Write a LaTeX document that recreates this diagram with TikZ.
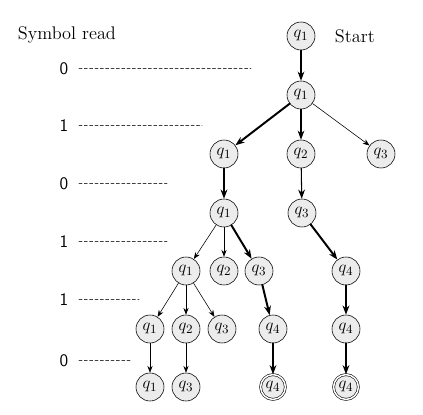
\documentclass[tikz,border=0pt]{standalone}
\usepackage{amsmath,amssymb}
\usepackage{tikz}
\usetikzlibrary{arrows.meta}
\usepackage{xcolor}

\begin{document}
\begin{tikzpicture}[x=0.025cm,y=-0.025cm,>={Stealth[length=2.3mm,width=1.7mm]},font=\fontsize{13}{15}\selectfont,line cap=round,
  state/.style={circle,draw,fill=gray!15,minimum size=0.7cm,inner sep=0pt},
  accept/.style={state,minimum size=0.62cm,double,double distance=1.1pt},
  lite/.style={->,line width=0.4pt,>={Stealth[length=1.7mm,width=1.3mm]}},
  mid/.style={->,line width=0.75pt},
  heavy/.style={->,line width=1.4pt},
  level/.style={font=\sffamily\fontsize{12.5}{14}\selectfont},
  guide/.style={line width=0.4pt,black!75,dash pattern=on 2.2pt off 1.6pt}]
\useasboundingbox (0,0) rectangle (423,415);
% column of symbols read
\node[anchor=west] (head) at (13,35) {Symbol read};
\node[level] (s1) at (64,69) {0};
\node[level] (s2) at (64,126) {1};
\node[level] (s3) at (64,184) {0};
\node[level] (s4) at (64,242) {1};
\node[level] (s5) at (64,300) {1};
\node[level] (s6) at (64,361) {0};
\coordinate (e1) at (251,68);
\coordinate (e2) at (202,125);
\coordinate (e3) at (167,183);
\coordinate (e4) at (167,241);
\coordinate (e5) at (139,299);
\coordinate (e6) at (132,360);
\foreach \i in {1,...,6}
  \draw[guide] (s\i.east |- e\i) ++(4pt,0) -- (e\i);
% tree of states
\node[state] (a) at (301,36) {$q_1$};
\node[anchor=west] (start) at (330,36) {Start};
\node[state] (b) at (301,95) {$q_1$};
\node[state] (c1) at (224,154) {$q_1$};
\node[state] (c2) at (301,154) {$q_2$};
\node[state] (c3) at (381,154) {$q_3$};
\node[state] (d1) at (224,213) {$q_1$};
\node[state] (d2) at (302,213) {$q_3$};
\node[state] (f1) at (186,271) {$q_1$};
\node[state] (f2) at (224,271) {$q_2$};
\node[state] (f3) at (259,271) {$q_3$};
\node[state] (f4) at (346,271) {$q_4$};
\node[state] (g1) at (150,329) {$q_1$};
\node[state] (g2) at (186,329) {$q_2$};
\node[state] (g3) at (222,329) {$q_3$};
\node[state] (g4) at (273,329) {$q_4$};
\node[state] (g5) at (346,329) {$q_4$};
\node[state] (h1) at (150,387) {$q_1$};
\node[state] (h2) at (186,387) {$q_3$};
\node[accept] (h3) at (273,387) {$q_4$};
\node[accept] (h4) at (346,387) {$q_4$};
\draw[mid] (a) -- (b);
\draw[heavy] (b) -- (c1);
\draw[mid] (b) -- (c2);
\draw[lite] (b) -- (c3);
\draw[heavy] (c1) -- (d1);
\draw[mid] (c2) -- (d2);
\draw[lite] (d1) -- (f1);
\draw[lite] (d1) -- (f2);
\draw[heavy] (d1) -- (f3);
\draw[heavy] (d2) -- (f4);
\draw[lite] (f1) -- (g1);
\draw[lite] (f1) -- (g2);
\draw[lite] (f1) -- (g3);
\draw[heavy] (f3) -- (g4);
\draw[heavy] (f4) -- (g5);
\draw[lite] (g1) -- (h1);
\draw[lite] (g2) -- (h2);
\draw[heavy] (g4) -- (h3);
\draw[heavy] (g5) -- (h4);
\end{tikzpicture}
\end{document}
